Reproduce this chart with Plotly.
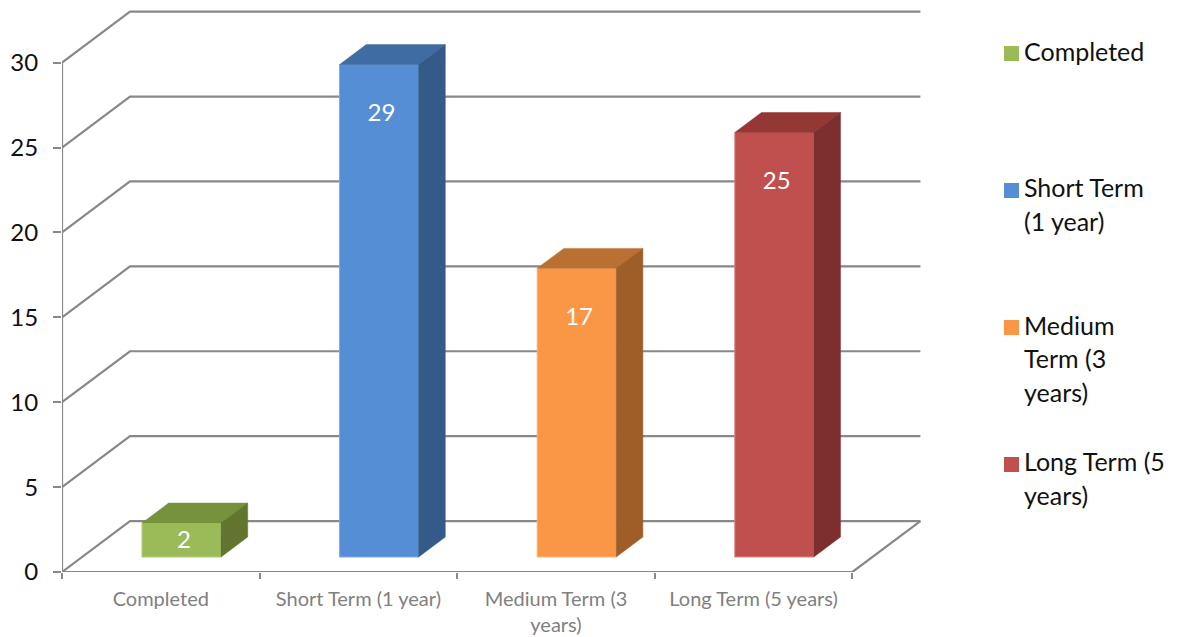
import plotly.graph_objects as go

categories = ["Completed", "Short Term (1 year)", "Medium Term (3 years)", "Long Term (5 years)"]
values = [2, 29, 17, 25]
tick_labels = ["Completed", "Short Term (1 year)", "Medium Term (3<br>years)", "Long Term (5 years)"]
y_ticks = [0, 5, 10, 15, 20, 25, 30]
legend_lines = [["Completed"], ["Short Term", "(1 year)"], ["Medium", "Term (3", "years)"], ["Long Term (5", "years)"]]

front_colors = ["#9BBB59", "#558ED5", "#F99746", "#C0504D"]
top_colors = ["#76923C", "#3F6CA3", "#BA7032", "#953735"]
side_colors = ["#62752F", "#345A8A", "#9F5E28", "#7C2F2E"]
edge_colors = ["#B3CC82", "#7FA8DD", "#FAB27C", "#D58A88"]

GRID = "#888888"
FONT = "Lato"

# plot-area scale
L, R, T, B = 62, 925, 10, 572
PX_X = 197.6
PX_Y = 16.98
WALL_DX = 68 / PX_X
WALL_DY = 3.0
BAR_W = 0.4
BAR_FRONT = 15 / 51      # fraction of the depth at which bars start
BAR_DEPTH = 20 / 51      # fraction of the depth the bars take
BAR_NUDGE = 0.7 / PX_X
X_RANGE = [0, (R - L) / PX_X]
Y_RANGE = [0, (B - T) / PX_Y]

fig = go.Figure()


def line(xs, ys):
    fig.add_trace(go.Scatter(x=xs, y=ys, mode="lines", line=dict(color=GRID, width=2.2),
                             showlegend=False, hoverinfo="skip", cliponaxis=False))


n = len(categories)
for v in y_ticks:
    line([0, WALL_DX, n + WALL_DX], [v, v + WALL_DY, v + WALL_DY])
line([0, 0], [0, y_ticks[-1]])
line([0, n, n + WALL_DX], [0, 0, WALL_DY])

for i, (c, v) in enumerate(zip(categories, values)):
    x0 = i + 0.5 + BAR_FRONT * WALL_DX - BAR_W / 2 + BAR_NUDGE
    x1 = x0 + BAR_W
    y0 = BAR_FRONT * WALL_DY
    y1 = y0 + v
    ddx = BAR_DEPTH * WALL_DX
    ddy = BAR_DEPTH * WALL_DY
    fig.add_trace(go.Scatter(x=[x0, x1, x1 + ddx, x0 + ddx, x0], y=[y1, y1, y1 + ddy, y1 + ddy, y1],
                             mode="lines", fill="toself", fillcolor=top_colors[i],
                             line=dict(color=top_colors[i], width=0.5), name=c + " top",
                             showlegend=False, hoverinfo="skip", xaxis="x2", yaxis="y2"))
    fig.add_trace(go.Scatter(x=[x1, x1 + ddx, x1 + ddx, x1, x1], y=[y0, y0 + ddy, y1 + ddy, y1, y0],
                             mode="lines", fill="toself", fillcolor=side_colors[i],
                             line=dict(color=side_colors[i], width=0.5), name=c + " side",
                             showlegend=False, hoverinfo="skip", xaxis="x2", yaxis="y2"))
    fig.add_trace(go.Bar(x=[(x0 + x1) / 2], y=[v], base=[y0], width=[BAR_W], name=c,
                         marker=dict(color=front_colors[i], line=dict(color=edge_colors[i], width=1)),
                         showlegend=False, xaxis="x2", yaxis="y2"))
    label_y = y0 + max(v / 2, v - 2.85) - 0.12
    fig.add_trace(go.Scatter(x=[(x0 + x1) / 2 + 0.012], y=[label_y], mode="text", text=[str(v)],
                             textposition="middle center",
                             textfont=dict(family=FONT, size=24, color="white"),
                             showlegend=False, hoverinfo="skip", xaxis="x2", yaxis="y2"))

shapes, annotations = [], []
for i, lines in enumerate(legend_lines):
    top = 46 + 137 * i
    shapes.append(dict(type="rect", xref="paper", yref="paper", line_width=0,
                       x0=(1004 - L) / (R - L), x1=(1019 - L) / (R - L),
                       y0=(B - (top + 15)) / (B - T), y1=(B - top) / (B - T),
                       fillcolor=front_colors[i]))
    for j, t in enumerate(lines):
        annotations.append(dict(xref="paper", yref="paper", showarrow=False, xanchor="left", yanchor="middle",
                                x=(1022 - L) / (R - L), y=(B - (50.5 + 137 * i + 33.5 * j)) / (B - T),
                                text=t, font=dict(family=FONT, size=25, color="#111111")))

fig.update_layout(
    template="none",
    width=1181, height=637, autosize=False,
    margin=dict(l=L, r=1181 - R, t=T, b=637 - B, pad=0),
    paper_bgcolor="white", plot_bgcolor="white", barmode="overlay",
    showlegend=False, shapes=shapes, annotations=annotations,
    font=dict(family=FONT),
    xaxis=dict(range=X_RANGE, showgrid=False, zeroline=False, showline=False, automargin=False,
               tickmode="array", tickvals=[i + 0.5 for i in range(n)], ticktext=tick_labels, ticks="",
               tickfont=dict(family=FONT, size=20, color="#808080"), ticklabelstandoff=13,
               minor=dict(tickmode="array", tickvals=list(range(n + 1)), ticks="outside",
                          ticklen=6, tickwidth=2, tickcolor=GRID, showgrid=False)),
    yaxis=dict(range=Y_RANGE, showgrid=False, zeroline=False, showline=False, automargin=False,
               tickmode="array", tickvals=y_ticks, ticks="outside", ticklen=8, tickwidth=2, tickcolor=GRID,
               tickfont=dict(family=FONT, size=24, color="#111111"), ticklabelstandoff=10),
    xaxis2=dict(range=X_RANGE, overlaying="x", visible=False),
    yaxis2=dict(range=Y_RANGE, overlaying="y", visible=False),
)

fig.write_html("out.html", config=dict(displayModeBar=False),
               post_script="document.body.style.margin='0';document.documentElement.style.overflow='hidden';")
